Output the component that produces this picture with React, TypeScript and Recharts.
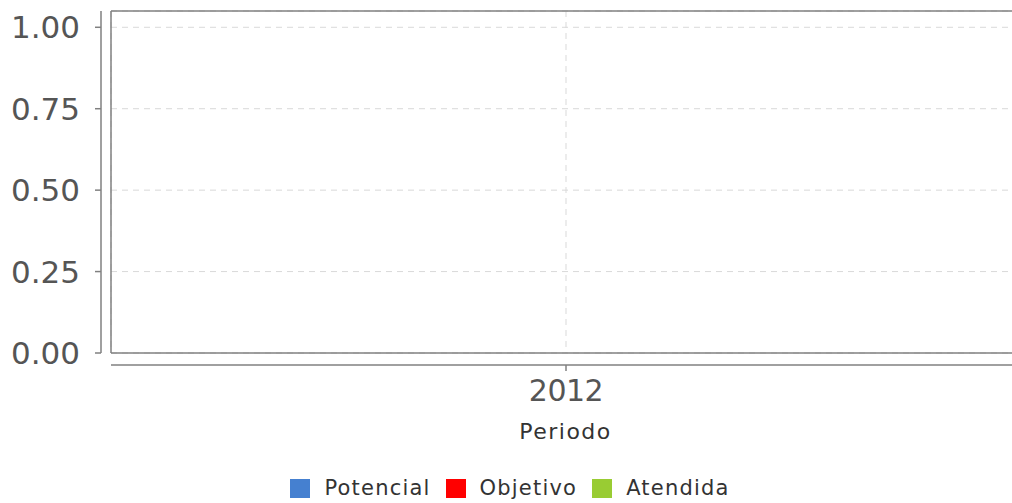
import React from 'react';
import { BarChart, Bar, XAxis, YAxis, CartesianGrid, ReferenceLine } from 'recharts';

const categories = ['2012'];
const potencial = [0];
const objetivo = [0];
const atendida = [0];
const yTicks = [0, 0.25, 0.5, 0.75, 1.0];
const yMax = 1.05;
const seriesNames = ['Potencial', 'Objetivo', 'Atendida'];
const seriesColors = ['#4580d0', '#ff0000', '#99cc33'];
const xAxisTitle = 'Periodo';

const data = categories.map((c, i) => ({
  periodo: c,
  Potencial: potencial[i],
  Objetivo: objetivo[i],
  Atendida: atendida[i],
}));

const FONT = '"DejaVu Sans", sans-serif';
const AXIS = '#808080';

const LegendContent = () => (
  <div
    style={{
      position: 'absolute',
      left: 0,
      top: 476,
      width: 1012,
      display: 'flex',
      justifyContent: 'center',
      alignItems: 'center',
      fontFamily: FONT,
      fontSize: 21,
      letterSpacing: 1.2,
      color: '#333',
      paddingLeft: 8,
      boxSizing: 'border-box',
    }}
  >
    {seriesNames.map((name, i) => (
      <div key={name} style={{ display: 'flex', alignItems: 'center', marginRight: i < seriesNames.length - 1 ? 15 : 0 }}>
        <span style={{ display: 'inline-block', width: 20, height: 19, background: seriesColors[i], marginRight: 14 }} />
        <span>{name}</span>
      </div>
    ))}
  </div>
);

export default function App() {
  return (
    <div style={{ position: 'fixed', left: 0, top: 0, width: 1012, height: 503, overflow: 'hidden', background: '#fff' }}>
      <BarChart width={1100} height={503} data={data} margin={{ top: 11, right: 40, bottom: 0, left: 0 }}>
        <CartesianGrid stroke="#d9d9d9" strokeDasharray="6 5" />
        <ReferenceLine y={yMax} stroke={AXIS} strokeWidth={1.5} />
        <ReferenceLine y={0} stroke={AXIS} strokeWidth={1.5} />
        <ReferenceLine x={categories[0]} position="start" stroke={AXIS} strokeWidth={1.5} />
        <XAxis
          dataKey="periodo"
          height={150}
          padding={{ left: 0, right: 39 }}
          axisLine={{ stroke: AXIS, strokeWidth: 1.5, transform: 'translate(0,12)' }}
          tickLine={{ stroke: AXIS, strokeWidth: 1.5, transform: 'translate(0,12)' }}
          tickSize={6}
          tickMargin={21}
          tick={{ fontSize: 30, fill: '#555', fontFamily: FONT, letterSpacing: -0.5 }}
          label={{ value: xAxisTitle, position: 'insideTop', offset: 70, dx: -20, fontSize: 22, fill: '#333', fontFamily: FONT, letterSpacing: 1.5 }}
        />
        <YAxis
          domain={[0, yMax]}
          ticks={yTicks}
          width={111}
          tickFormatter={(v: number) => v.toFixed(2)}
          axisLine={{ stroke: AXIS, strokeWidth: 1.5, transform: 'translate(-10,0)' }}
          tickLine={{ stroke: AXIS, strokeWidth: 1.5, transform: 'translate(-10,0)' }}
          tickSize={6}
          tickMargin={25}
          tick={{ fontSize: 31, fill: '#555', fontFamily: FONT }}
          allowDataOverflow
        />
        {seriesNames.map((name, i) => (
          <Bar key={name} dataKey={name} name={name} fill={seriesColors[i]} isAnimationActive={false} />
        ))}
      </BarChart>
      <LegendContent />
    </div>
  );
}
